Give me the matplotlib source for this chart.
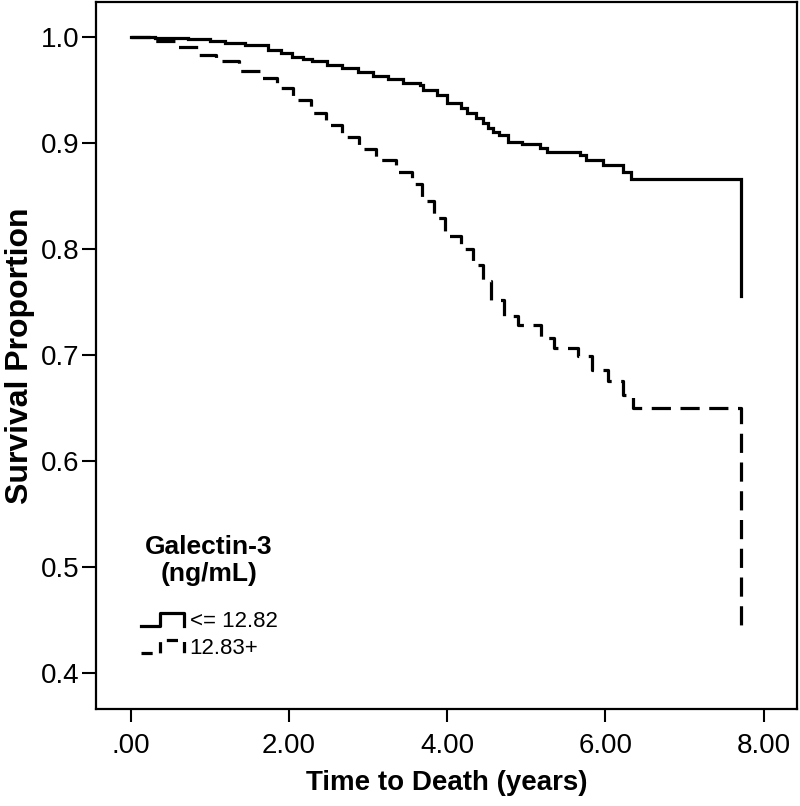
import matplotlib
matplotlib.use("Agg")
import matplotlib.pyplot as plt
from matplotlib.lines import Line2D
from matplotlib.legend_handler import HandlerBase

# ---- data ----
low_t = [0.00, 0.30, 0.72, 1.00, 1.19, 1.45, 1.73, 1.90, 2.04, 2.18, 2.29, 2.48, 2.67, 2.87,
         3.06, 3.25, 3.44, 3.65, 3.69, 3.87, 4.00, 4.18, 4.25, 4.37, 4.45, 4.52, 4.58,
         4.66, 4.77, 4.94, 5.17, 5.26, 5.68, 5.76, 5.97, 6.22, 6.33, 7.72]
low_s = [1.000, 0.999, 0.998, 0.996, 0.994, 0.992, 0.988, 0.985, 0.981, 0.979, 0.977, 0.974, 0.971, 0.967,
         0.963, 0.960, 0.957, 0.955, 0.950, 0.945, 0.938, 0.933, 0.928, 0.924, 0.919, 0.914, 0.910,
         0.908, 0.901, 0.899, 0.895, 0.892, 0.889, 0.884, 0.879, 0.873, 0.866, 0.756]

high_t = [0.00, 0.30, 0.60, 0.85, 1.08, 1.37, 1.65, 1.85, 2.05, 2.28, 2.47, 2.67, 2.88, 3.10,
          3.35, 3.55, 3.68, 3.83, 3.97, 4.17, 4.33, 4.45, 4.55, 4.72, 4.90, 5.18, 5.35,
          5.65, 5.83, 6.03, 6.22, 6.35, 7.72]
high_s = [1.000, 0.996, 0.991, 0.983, 0.977, 0.968, 0.961, 0.952, 0.941, 0.928, 0.917, 0.906, 0.894, 0.884,
          0.873, 0.861, 0.845, 0.829, 0.812, 0.800, 0.785, 0.770, 0.752, 0.737, 0.728, 0.716, 0.707,
          0.699, 0.686, 0.676, 0.662, 0.650, 0.443]

x_ticks = [0, 2, 4, 6, 8]
x_tick_labels = [".00", "2.00", "4.00", "6.00", "8.00"]
y_ticks = [0.4, 0.5, 0.6, 0.7, 0.8, 0.9, 1.0]
y_tick_labels = ["0.4", "0.5", "0.6", "0.7", "0.8", "0.9", "1.0"]
group_labels = ["<= 12.82", "12.83+"]

FONT = ["Liberation Sans", "DejaVu Sans"]
plt.rcParams["font.family"] = FONT

fig = plt.figure(figsize=(8.0, 8.06), dpi=100)
ax = fig.add_axes([0.12, 0.12, 0.876, 0.8775])

LW = 2.3
DASH = (0, (6.0, 3.0))

ax.plot(low_t, low_s, drawstyle="steps-post", color="black", lw=LW,
        solid_joinstyle="miter", label=group_labels[0])
ax.plot(high_t, high_s, drawstyle="steps-post", color="black", lw=LW,
        linestyle=DASH, dash_capstyle="butt", label=group_labels[1])

ax.set_xlim(-0.44, 8.42)
ax.set_ylim(0.366, 1.033)
ax.set_xticks(x_ticks)
ax.set_xticklabels(x_tick_labels)
ax.set_yticks(y_ticks)
ax.set_yticklabels(y_tick_labels)
ax.tick_params(axis="both", direction="out", length=9, width=1.5, labelsize=20, pad=8,
               color="black")
ax.tick_params(axis="y", length=10, pad=2)
for sp in ax.spines.values():
    sp.set_linewidth(1.6)

ax.set_xlabel("Time to Death (years)", fontsize=20, fontweight="bold", labelpad=8)
ax.set_ylabel("Survival Proportion", fontsize=23, fontweight="bold", labelpad=4)


class StepHandler(HandlerBase):
    def create_artists(self, legend, orig_handle, xdescent, ydescent, width, height,
                       fontsize, trans):
        xs = [0.0, 0.45, 0.45, 1.0, 1.0]
        ys = [0.1, 0.1, 0.85, 0.85, 0.1]
        x = [v * width - xdescent for v in xs]
        y = [v * height - ydescent for v in ys]
        ln = Line2D(x, y, color="black", lw=LW)
        if orig_handle.get_linestyle() != "-":
            ln.set_linestyle((0, (3.5, 2.5)))
            ln.set_dash_capstyle("butt")
        ln.set_transform(trans)
        return [ln]


handles, labels = ax.get_legend_handles_labels()
leg = ax.legend(handles, labels, loc="upper left", bbox_to_anchor=(0.048, 0.262),
                frameon=False, fontsize=16, title="Galectin-3\n(ng/mL)",
                title_fontproperties={"size": 19, "weight": "bold", "family": FONT},
                handler_map={h: StepHandler() for h in handles},
                handlelength=1.95, handleheight=0.8, handletextpad=0.25,
                labelspacing=0.25, borderpad=0)
leg.get_title().set_linespacing(1.15)
leg.get_title().set_multialignment("center")
leg._legend_box.sep = 18
leg._legend_box.align = "center"

fig.savefig("out.png", dpi=100)
